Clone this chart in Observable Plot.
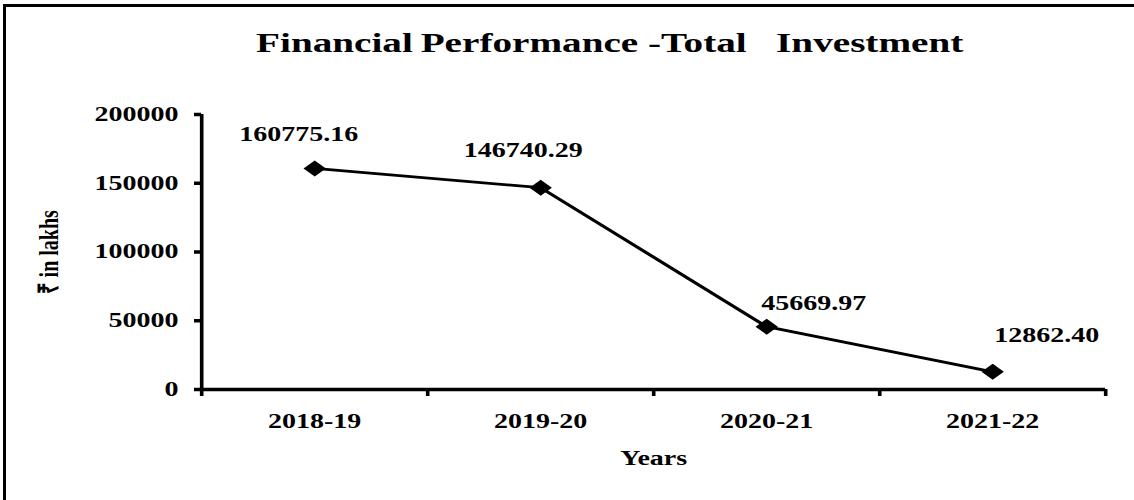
<!DOCTYPE html>
<html><head><meta charset="utf-8">
<script src="https://cdn.jsdelivr.net/npm/d3@7"></script>
<script src="https://cdn.jsdelivr.net/npm/@observablehq/plot@0.6"></script>
<style>
html,body{margin:0;padding:0;background:#fff;overflow:hidden;width:1134px;height:500px;}
#chart{position:absolute;left:0;top:0;width:1134px;height:500px;}
#border{position:absolute;left:3px;top:4px;width:1200px;height:600px;border-left:3px solid #000;border-top:3px solid #000;pointer-events:none;}
</style></head><body>
<div id="chart"></div><div id="border"></div>
<script>
// ---- data ----
const years = ["2018-19", "2019-20", "2020-21", "2021-22"];
const investment = [160775.16, 146740.29, 45669.97, 12862.40];
const valueLabels = ["160775.16", "146740.29", "45669.97", "12862.40"];
const yTicks = [0, 50000, 100000, 150000, 200000];
const titleText = "Financial\u2009Performance -Total\u00A0\u00A0\u00A0Investment";
const yLabelText = "₹ in lakhs";
const xLabelText = "Years";

// ---- build ----
const S = 1.4;               // horizontal stretch of the original picture
const W = 1134 / S, H = 500;
const data = years.map((year, k) => ({i: k + 1, year, value: investment[k], label: valueLabels[k]}));
const boundaries = d3.range(years.length + 1).map(k => k + 0.5);
const centers = d3.range(1, years.length + 1);

const labelOffsets = [[-11.4, -33.7], [-12.5, -37.5], [33.6, -23], [38.6, -36]];

const svg = Plot.plot({
  width: W,
  height: H,
  marginLeft: 201 / S,
  marginRight: W - 1105 / S,
  marginTop: 114,
  marginBottom: 111,
  style: {fontFamily: "'Liberation Serif','Times New Roman',serif", fontWeight: "bold", fontSize: "20px", color: "#000", background: "#fff"},
  x: {type: "linear", domain: [0.5, years.length + 0.5], label: null},
  y: {domain: [0, 200000], label: null},
  marks: [
    Plot.axisY({ticks: yTicks, tickSize: 5, tickPadding: 11.5, strokeWidth: 3.5, fontSize: 20, tickFormat: d => String(d), label: null}),
    Plot.axisX({ticks: boundaries, tickSize: 7, strokeWidth: 2.6, tickFormat: () => "", label: null}),
    Plot.axisX({ticks: centers, tickSize: 0, tickPadding: 24, fontSize: 20, tickFormat: i => years[i - 1], label: null}),
    Plot.ruleY([0], {strokeWidth: 3.6, stroke: "#000"}),
    Plot.ruleX([0.5], {y1: 0, y2: 200000, strokeWidth: 2.6, stroke: "#000"}),
    Plot.line(data, {x: "i", y: "value", stroke: "#000", strokeWidth: 2.8}),
    Plot.dot(data, {x: "i", y: "value", symbol: "diamond2", r: 7.2, fill: "#000", stroke: "none"}),
    ...data.map((d, k) => Plot.text([d], {x: "i", y: "value", text: "label", fontSize: 20, lineAnchor: "middle", dx: labelOffsets[k][0], dy: labelOffsets[k][1]})),
    Plot.text([titleText], {frameAnchor: "top", text: d => d, fontSize: 28, textAnchor: "middle", lineAnchor: "middle", dx: 609 / S - (201 + 1105) / 2 / S, dy: 43 - 114}),
    Plot.text([xLabelText], {frameAnchor: "bottom", text: d => d, fontSize: 20, textAnchor: "middle", lineAnchor: "middle", dy: 69}),
    Plot.text([yLabelText], {frameAnchor: "left", text: d => d, fontSize: 20, rotate: -90, textAnchor: "middle", lineAnchor: "middle", dx: 48 / S - 201 / S})
  ]
});
svg.setAttribute("preserveAspectRatio", "none");
svg.style.width = "1134px";
svg.style.height = "500px";
svg.style.maxWidth = "none";
document.getElementById("chart").appendChild(svg);
</script>
</body></html>
